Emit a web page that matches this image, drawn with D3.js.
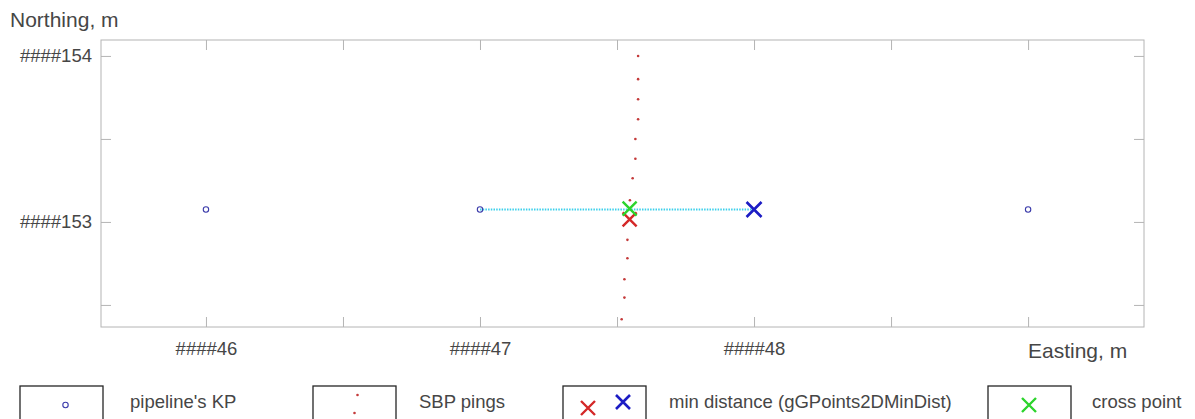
<!DOCTYPE html>
<html lang="en">
<head>
<meta charset="UTF-8">
<title>Pipeline crossing</title>
<script src="https://d3js.org/d3.v7.min.js"></script>
<style>
  body { margin: 0; background: #fff; }
  svg { display: block; font-family: Arial, "Liberation Sans", sans-serif; }
</style>
</head>
<body>
<svg width="1195" height="419"></svg>
<script>
// pipeline KP points (easting, northing offsets)
const kpE = [46, 47, 49];
const kpN = [153.075, 153.075, 153.075];

// SBP pings
const pingE = [47.577, 47.577, 47.577, 47.577, 47.567, 47.567, 47.557, 47.547, 47.546, 47.538, 47.538, 47.527, 47.527, 47.517];
const pingN = [154.0, 153.86, 153.739, 153.619, 153.5, 153.381, 153.263, 153.131, 153.015, 152.892, 152.781, 152.655, 152.544, 152.414];

// min distance pair and pipeline segment
const minPing = [47.546, 153.015];
const minPipe = [48, 153.075];
const segE = [47, 48];
const segN = [153.075, 153.075];
const crossPt = [47.546, 153.08];

// axes
const xTicks = [46, 46.5, 47, 47.5, 48, 48.5, 49];
const xTickLabels = ['####46', '', '####47', '', '####48', '', ''];
const yTicks = [152.5, 153, 153.5, 154];
const yTickLabels = ['', '####153', '', '####154'];
const legendLabels = ["pipeline's KP", 'SBP pings', 'min distance (gGPoints2DMinDist)', 'cross point'];

const svg = d3.select('svg');
const L = 101, R = 1144, T = 40, B = 327;

const x = d3.scaleLinear().domain([45.617, 49.423]).range([L, R]);
const y = d3.scaleLinear().domain([152.367, 154.096]).range([B, T]);

const textCol = '#464646';
const axisCol = '#b4b4b4';

// box
svg.append('rect')
  .attr('x', L).attr('y', T).attr('width', R - L).attr('height', B - T)
  .attr('fill', 'none').attr('stroke', axisCol);

function styleAxis(g) {
  g.select('.domain').remove();
  g.selectAll('line').attr('stroke', axisCol);
  g.selectAll('text').attr('fill', textCol).style('font-size', '18.5px');
}

svg.append('g').attr('transform', `translate(0,${B})`)
  .call(d3.axisBottom(x).tickValues(xTicks).tickSizeInner(-10).tickSizeOuter(0)
    .tickPadding(15).tickFormat((d, i) => xTickLabels[i]))
  .call(styleAxis);
svg.append('g').attr('transform', `translate(0,${T})`)
  .call(d3.axisTop(x).tickValues(xTicks).tickSizeInner(-10).tickSizeOuter(0).tickFormat(''))
  .call(styleAxis);
svg.append('g').attr('transform', `translate(${L},0)`)
  .call(d3.axisLeft(y).tickValues(yTicks).tickSizeInner(-10).tickSizeOuter(0)
    .tickPadding(9).tickFormat((d, i) => yTickLabels[i]))
  .call(styleAxis);
svg.append('g').attr('transform', `translate(${R},0)`)
  .call(d3.axisRight(y).tickValues(yTicks).tickSizeInner(-10).tickSizeOuter(0).tickFormat(''))
  .call(styleAxis);

// axis titles
svg.append('text').attr('x', 10).attr('y', 27).attr('fill', textCol)
  .style('font-size', '21px').text('Northing, m');
svg.append('text').attr('x', 1028).attr('y', 358).attr('fill', textCol)
  .style('font-size', '21px').text('Easting, m');

function cross(g, cx, cy, h, col, w) {
  g.append('path')
    .attr('d', `M${cx - h},${cy - h}L${cx + h},${cy + h}M${cx - h},${cy + h}L${cx + h},${cy - h}`)
    .attr('stroke', col).attr('stroke-width', w).attr('fill', 'none');
}

const plot = svg.append('g');

// pipeline segment (dotted)
plot.append('path')
  .datum(d3.zip(segE, segN))
  .attr('d', d3.line().x(d => x(d[0])).y(d => y(d[1])))
  .attr('stroke', '#3cd0ec').attr('stroke-width', 1.8)
  .attr('stroke-dasharray', '1.5,1.2').attr('fill', 'none');

// KP circles
plot.selectAll('circle.kp')
  .data(d3.zip(kpE, kpN))
  .join('circle').attr('class', 'kp')
  .attr('cx', d => x(d[0])).attr('cy', d => y(d[1])).attr('r', 2.7)
  .attr('fill', 'none').attr('stroke', '#3a3aaa').attr('stroke-width', 1.1);

// pings
plot.selectAll('circle.ping')
  .data(d3.zip(pingE, pingN))
  .join('circle').attr('class', 'ping')
  .attr('cx', d => x(d[0])).attr('cy', d => y(d[1])).attr('r', 1.3)
  .attr('fill', '#c43a3a');

cross(plot, x(minPing[0]), y(minPing[1]), 7, '#d42828', 2.4);
cross(plot, x(minPipe[0]), y(minPipe[1]), 7.5, '#1c1cc4', 2.6);
cross(plot, x(crossPt[0]), y(crossPt[1]), 7, '#2cd42c', 2.4);

// legend
const boxX = [20, 313, 563, 988];
const textX = [130, 419, 669, 1092];
const lg = svg.append('g');
boxX.forEach((bx, i) => {
  lg.append('rect').attr('x', bx).attr('y', 386).attr('width', 83).attr('height', 45)
    .attr('fill', '#fff').attr('stroke', '#262626').attr('stroke-width', 1.3);
  lg.append('text').attr('x', textX[i]).attr('y', 408).attr('fill', textCol)
    .style('font-size', '18.5px').text(legendLabels[i]);
});
lg.append('circle').attr('cx', 65.5).attr('cy', 405).attr('r', 2.7)
  .attr('fill', 'none').attr('stroke', '#3a3aaa').attr('stroke-width', 1.1);
lg.append('circle').attr('cx', 357.5).attr('cy', 395).attr('r', 1.3).attr('fill', '#c43a3a');
lg.append('circle').attr('cx', 354.5).attr('cy', 413).attr('r', 1.3).attr('fill', '#c43a3a');
cross(lg, 588, 408, 7, '#d42828', 2.4);
cross(lg, 623, 402, 7, '#1c1cc4', 2.6);
cross(lg, 1029, 405, 7, '#2cd42c', 2.4);
</script>
</body>
</html>
